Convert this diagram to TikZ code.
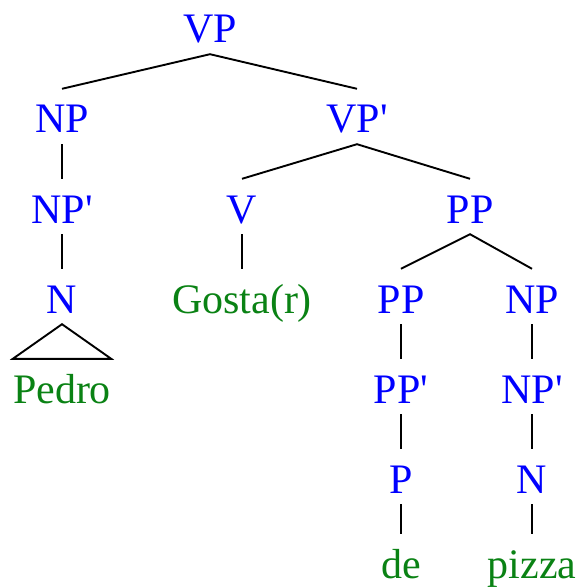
\documentclass[tikz,border=0pt]{standalone}
\usepackage{fontspec}
\setmainfont{Liberation Serif}
\definecolor{catblue}{RGB}{0,0,255}
\definecolor{wordgreen}{RGB}{10,130,20}

\begin{document}
\begin{tikzpicture}[x=1pt, y=-1pt, cat/.style={text=catblue, font=\fontsize{42}{42}\selectfont, inner sep=0pt, text height=44pt, text depth=11pt, anchor=base}, word/.style={cat, text=wordgreen}, branch/.style={line width=1.9pt}]
    \useasboundingbox (0,0) rectangle (583,588);
    \node[cat] (vp) at (210,43) {VP};
    \node[cat] (np) at (62,133) {NP};
    \node[cat] (vpbar) at (357,133) {VP\textquotesingle};
    \node[cat] (npbar) at (62,223) {NP\textquotesingle};
    \node[cat] (v) at (242,223) {V};
    \node[cat] (pp) at (470,223) {PP};
    \node[cat] (n) at (62,313) {N};
    \node[word] (gostar) at (242,313) {Gosta(r)};
    \node[cat] (ppleft) at (401,313) {PP};
    \node[cat] (npright) at (532,313) {NP};
    \node[word] (pedro) at (62,403) {Pedro};
    \node[cat] (ppbar) at (401,403) {PP\textquotesingle};
    \node[cat] (nprightbar) at (532,403) {NP\textquotesingle};
    \node[cat] (p) at (401,493) {P};
    \node[cat] (nright) at (532,493) {N};
    \node[word, text depth=9pt] (de) at (401,578) {de};
    \node[word, text depth=9pt] (pizza) at (532,578) {pizza};
    \draw[branch] (np.north) -- (vp.south) -- (vpbar.north);
    \draw[branch] (np.south) -- (npbar.north);
    \draw[branch] (npbar.south) -- (n.north);
    \draw[branch] (n.south) -- (pedro.north west) -- (pedro.north east) -- cycle;
    \draw[branch] (v.north) -- (vpbar.south) -- (pp.north);
    \draw[branch] (v.south) -- (gostar.north);
    \draw[branch] (ppleft.north) -- (pp.south) -- (npright.north);
    \draw[branch] (ppleft.south) -- (ppbar.north);
    \draw[branch] (ppbar.south) -- (p.north);
    \draw[branch] (p.south) -- (de.north);
    \draw[branch] (npright.south) -- (nprightbar.north);
    \draw[branch] (nprightbar.south) -- (nright.north);
    \draw[branch] (nright.south) -- (pizza.north);
\end{tikzpicture}
\end{document}
